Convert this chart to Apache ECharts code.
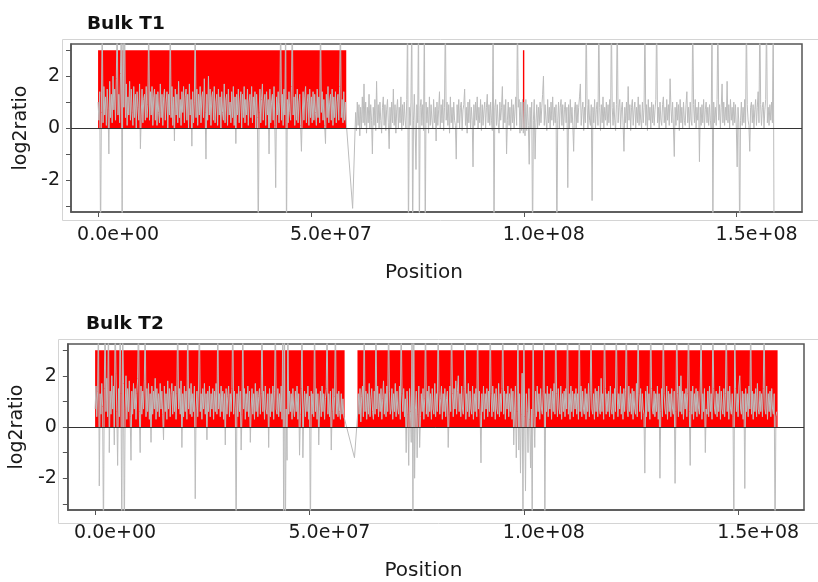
<!DOCTYPE html>
<html>
<head>
<meta charset="utf-8">
<script src="https://cdn.jsdelivr.net/npm/echarts@6/dist/echarts.min.js"></script>
<style>
  html, body { margin: 0; padding: 0; background: #fff; }
  #chart { width: 818px; height: 582px; }
</style>
</head>
<body>
<div id="chart"></div>
<script>
// ---- copy-number profiles (log2 ratio along chromosome position) ----

// Bulk T1: binned log2 ratios, p arm and q arm
const t1ArmP = { start: 0, end: 5.83e7, values: [
  1.0,0.3,1.4,-4.5,0.6,4.4,0.2,1.6,0.5,1.2,0.1,1.5,0.7,-1.0,1.8,0.4,1.3,0.2,2.0,0.7,
  1.5,0.3,1.9,4.5,0.5,1.3,0.2,2.1,4.4,-4.5,4.5,0.8,4.4,0.4,1.7,0.1,1.2,0.5,1.8,0.3,
  1.5,0.6,0.1,1.6,0.4,1.3,0.0,1.4,0.8,0.3,1.7,-0.8,0.5,1.5,0.2,1.1,1.3,0.3,1.6,0.4,
  0.9,4.3,0.3,1.4,0.5,1.6,0.1,1.2,1.5,0.3,1.3,0.1,1.4,0.6,0.2,1.7,0.4,1.3,0.1,1.2,
  1.5,0.3,1.0,1.4,0.0,1.3,0.5,4.4,0.4,1.6,0.1,1.2,-0.5,1.5,0.5,1.3,0.2,1.8,0.4,1.1,
  0.1,1.4,0.6,1.6,0.2,1.2,1.5,0.3,1.3,0.0,1.7,0.5,1.1,-0.7,1.4,0.2,1.0,4.4,0.4,1.5,
  0.1,1.3,0.5,1.6,0.2,1.2,1.4,0.4,1.9,0.6,-1.2,1.3,0.3,2.0,0.5,1.5,0.1,1.2,1.4,0.3,
  1.6,0.2,1.0,1.3,0.1,1.5,0.5,1.2,0.0,1.4,0.6,0.3,1.7,0.2,1.1,1.3,0.1,1.5,0.5,1.0,
  0.2,1.4,0.4,1.6,0.1,1.2,-0.6,1.3,0.5,1.5,0.2,1.0,1.4,0.0,1.3,0.4,1.6,0.2,1.1,0.5,
  1.5,0.1,1.0,1.3,0.4,1.6,0.2,1.2,0.5,1.4,0.0,1.3,0.4,-4.5,0.6,1.5,0.2,1.1,1.7,0.3,
  1.0,1.3,0.1,1.4,0.5,1.1,-1.0,1.5,0.2,1.0,1.3,0.3,1.6,0.1,-2.3,1.2,0.5,1.4,0.2,1.0,
  4.4,0.3,1.3,0.1,1.5,0.5,4.5,-4.5,1.1,0.2,1.4,0.6,0.3,1.6,4.4,0.5,1.2,0.1,1.3,0.3,
  1.5,0.2,1.0,1.3,0.1,-0.9,0.5,1.4,0.3,1.2,1.6,0.2,1.0,1.3,0.1,1.5,0.4,1.2,0.2,1.4,
  0.3,1.3,0.6,0.1,1.5,0.4,1.2,0.2,4.4,0.6,1.4,0.3,1.1,0.1,-0.6,1.3,0.4,1.6,0.2,1.0,
  1.3,0.3,1.5,0.1,1.2,0.4,1.4,0.2,1.0,1.3,0.3,1.6,4.3,0.4,1.1,0.2,1.4,0.3,1.0,0.2
]};
const t1Bridge = [5.98e7, -3.1];
const t1ArmQ = { start: 6.05e7, end: 1.588e8, values: [
  0.6,-0.1,1.0,0.1,0.9,-0.3,0.8,0.0,1.2,0.2,1.7,0.1,1.0,-0.2,0.8,0.2,1.3,0.0,0.9,0.3,
  -1.0,0.8,0.1,1.1,-0.1,1.8,0.2,0.9,0.0,1.0,0.3,-0.2,0.8,1.2,0.1,0.9,-0.1,0.7,1.1,0.2,
  -0.8,0.8,0.0,1.0,0.2,1.5,0.1,0.9,-0.2,0.7,1.1,0.0,0.8,0.2,1.2,-0.1,0.9,0.1,1.0,0.3,
  0.0,1.1,4.5,-4.5,0.8,0.1,1.0,4.5,-4.5,0.3,1.3,0.0,-1.6,0.9,0.2,4.5,-4.5,0.8,1.1,0.1,
  0.9,-0.1,4.5,-4.5,1.0,0.2,0.8,-0.2,1.2,0.1,0.9,0.3,0.0,1.1,0.2,0.8,-0.5,1.0,0.1,0.7,
  1.4,0.0,0.9,0.2,1.1,-0.1,0.8,4.4,0.3,1.0,0.1,0.9,-0.2,1.2,0.2,0.8,0.0,1.0,0.3,0.1,
  -1.2,0.9,0.2,1.1,0.0,0.8,1.0,-0.1,0.7,0.9,1.5,0.1,0.8,-0.2,1.0,0.2,1.1,0.0,0.8,0.3,
  -1.5,0.9,0.1,1.0,0.3,1.2,0.0,0.8,0.2,1.1,-0.1,0.9,0.1,0.7,1.0,0.0,0.8,1.3,0.2,0.9,
  0.1,1.0,0.3,-0.1,4.5,-4.5,0.8,1.1,0.1,0.9,0.2,-0.2,1.0,0.3,0.8,1.6,0.0,0.9,0.2,1.1,
  -1.0,0.3,1.0,0.1,0.8,-0.1,1.1,0.2,0.9,0.0,0.7,1.2,0.1,4.4,0.8,1.1,-0.2,1.0,-0.1,1.1,
  -0.2,1.0,-0.3,1.1,-0.1,0.9,0.1,-1.4,0.8,0.0,1.0,-4.5,0.3,1.1,-1.2,0.2,0.9,0.0,0.8,0.1,
  1.0,0.2,0.8,1.3,2.0,0.1,0.9,0.3,-0.1,1.1,0.2,0.8,0.0,1.0,0.3,1.2,0.1,0.8,0.2,0.9,
  -4.5,0.3,1.0,0.0,0.8,1.1,0.1,0.9,-0.1,0.7,1.0,0.2,0.8,-2.3,0.9,0.0,1.1,0.2,0.8,0.1,
  -0.9,0.7,1.0,0.0,0.9,0.2,0.8,1.2,1.7,0.1,0.7,1.0,-0.1,0.8,0.2,4.4,0.9,0.0,1.1,0.3,
  0.1,0.9,-2.8,0.8,0.2,1.1,0.0,0.7,1.0,0.1,4.5,0.8,-0.1,0.9,0.2,1.2,0.0,0.8,0.3,1.0,
  0.1,0.9,0.2,1.1,0.0,4.4,0.8,0.1,1.0,0.3,-0.1,0.9,4.5,0.2,0.8,1.1,0.0,0.7,1.0,0.1,
  -0.9,0.8,0.2,1.0,0.0,1.6,0.3,0.9,-0.1,0.8,1.1,0.1,0.7,1.0,0.0,0.8,0.2,1.2,0.1,0.9,
  0.3,0.0,1.0,0.2,0.8,4.4,0.1,0.9,-0.1,1.1,0.3,0.8,0.0,1.0,0.2,0.9,0.1,0.7,1.1,4.5,
  0.2,0.8,0.0,1.0,0.3,0.1,0.9,1.2,0.2,0.8,0.0,1.1,0.3,0.9,0.1,1.9,0.8,0.2,1.0,0.0,
  -1.1,0.8,0.1,1.0,0.3,0.9,-0.1,1.1,0.2,0.8,0.0,1.0,0.3,0.1,0.9,1.4,0.2,0.8,0.0,1.0,
  0.3,0.1,4.4,0.9,0.2,1.1,0.0,0.8,0.3,1.0,-1.3,0.8,0.1,0.9,0.2,1.1,0.0,0.7,1.0,0.2,
  0.8,0.1,0.9,0.3,0.0,4.5,-4.5,1.0,0.2,0.8,0.1,1.1,4.4,0.3,0.9,0.0,0.8,1.7,0.2,1.0,
  0.1,0.8,0.3,1.8,0.2,0.9,0.0,1.1,0.3,0.8,0.1,1.0,0.2,0.9,0.0,-1.5,0.8,0.2,-4.5,0.3,
  1.0,0.1,0.8,0.2,1.1,0.0,4.4,0.9,0.3,0.1,-0.9,0.8,1.0,0.2,0.9,0.0,0.7,1.1,0.1,0.8,
  1.4,0.2,4.5,0.9,0.1,0.8,1.0,0.0,0.7,1.1,4.4,0.2,0.8,0.1,0.9,0.3,1.0,0.2,4.5,-4.5
]};
// called gain segments: [start, end, level]
const t1Gains = [[0, 5.83e7, 3], [9.98e7, 1.0e8, 3]];

// Bulk T2
const t2ArmP = { start: 0, end: 5.82e7, values: [
  0.7,1.6,0.4,1.4,4.4,-2.3,1.3,0.5,1.7,0.8,-4.5,1.5,4.5,0.6,1.9,0.4,4.4,-1.0,1.4,0.5,
  2.0,0.7,1.6,-0.7,4.5,2.1,0.6,-1.5,1.5,0.4,4.4,1.3,-4.5,4.5,1.7,-4.5,0.7,2.0,0.3,1.5,
  0.6,1.8,0.4,-1.3,1.4,0.5,1.7,0.7,1.5,0.3,1.3,1.9,4.5,0.6,-1.0,1.6,0.5,1.4,0.7,1.8,
  4.4,0.4,1.5,0.6,1.7,0.3,1.3,-0.6,1.6,0.5,1.4,0.7,1.9,0.3,1.5,0.6,1.3,0.4,1.7,0.7,
  1.4,0.5,-0.5,1.6,0.6,1.3,0.3,1.8,0.7,1.5,0.4,1.3,1.7,0.5,1.4,0.6,1.6,0.3,1.3,4.5,
  0.7,1.5,0.5,1.8,-0.8,1.3,0.4,1.6,0.6,1.4,0.3,4.4,0.7,1.5,0.5,1.7,0.4,1.3,0.6,1.6,
  -2.8,0.7,1.4,0.4,1.6,4.5,0.6,1.3,0.3,1.5,0.7,1.7,0.5,1.3,-0.5,1.4,0.6,1.6,0.4,1.3,
  0.7,1.5,0.3,1.4,0.6,1.7,0.5,4.4,0.7,1.3,0.4,1.6,0.6,1.4,0.3,1.3,-0.7,1.5,0.5,1.2,
  1.6,0.4,1.3,0.6,1.5,4.5,0.5,1.4,0.7,-4.5,1.3,0.4,1.6,0.6,1.4,-0.9,0.5,4.4,0.7,1.5,
  0.3,1.3,0.6,1.6,0.4,1.4,-0.6,0.7,1.5,0.5,1.3,0.3,1.7,0.6,1.4,0.4,1.2,1.5,0.5,1.3,
  4.5,0.6,1.4,0.3,1.6,0.7,0.5,1.3,-0.8,1.5,0.4,1.3,0.6,1.6,0.3,1.4,4.4,0.7,0.5,1.5,
  0.4,1.3,0.6,1.6,0.3,4.5,-4.5,4.4,-4.5,0.7,-1.3,4.4,0.5,1.4,0.6,1.3,0.3,1.5,0.7,0.4,
  1.4,0.6,1.6,0.3,1.3,-1.1,0.5,1.5,4.5,-1.2,0.7,1.4,0.4,1.3,0.6,1.6,0.3,1.2,-4.5,1.4,
  0.5,1.3,0.4,4.4,0.6,1.5,0.3,1.3,-0.7,0.7,1.4,0.4,1.6,0.6,1.3,0.3,1.1,1.5,4.5,0.5,
  1.3,0.4,1.4,-0.9,0.6,1.5,0.3,1.2,4.4,0.5,1.3,0.4,1.4,0.6,0.3,1.3,0.5,1.1,0.4,0.3
]};
const t2Bridge = [6.05e7, -1.2];
const t2ArmQ = { start: 6.12e7, end: 1.59e8, values: [
  0.4,1.3,0.5,1.5,0.2,1.2,1.6,0.4,4.4,0.6,1.4,0.3,1.3,0.5,1.7,0.4,1.1,1.5,0.6,0.3,
  1.4,0.5,4.5,0.7,1.6,0.4,1.3,0.6,1.5,0.3,1.1,1.8,0.5,1.3,0.4,1.6,0.6,4.4,1.4,0.5,
  0.7,1.5,0.3,1.3,0.6,1.7,0.4,1.4,0.7,0.5,1.6,0.3,4.5,1.3,0.6,1.5,0.4,1.1,-1.0,1.4,
  0.5,-1.5,1.5,0.6,-0.6,4.5,-4.5,4.4,-2.0,0.7,1.4,-1.2,0.5,1.6,-0.8,0.4,1.3,0.6,1.5,0.3,
  1.1,4.4,0.5,1.4,0.4,1.6,0.6,1.3,0.3,1.5,0.7,0.5,1.7,0.4,1.3,0.6,4.5,1.4,0.5,1.1,
  1.6,0.3,1.3,0.6,1.5,0.4,1.1,1.4,-0.8,0.5,1.6,0.6,4.4,1.3,0.4,1.5,0.7,1.8,0.5,1.4,
  2.0,0.6,1.3,0.4,1.6,0.7,0.5,1.5,4.5,0.3,1.3,0.6,1.7,0.4,1.4,0.7,0.5,1.6,0.3,1.3,
  0.6,1.5,0.4,4.4,0.7,1.4,0.5,-1.4,1.3,0.6,1.6,0.3,1.3,0.7,1.5,0.4,1.4,0.6,4.5,1.3,
  0.4,1.6,0.6,1.3,0.3,1.5,0.7,0.5,1.7,0.4,1.3,0.6,1.5,4.4,0.5,1.4,0.3,1.3,0.7,1.6,
  0.4,1.3,0.6,1.5,0.3,1.4,-0.7,0.7,1.6,-1.2,0.6,4.5,-0.9,1.3,-1.8,0.5,2.1,-4.5,4.4,0.4,
  -2.5,1.3,0.6,-1.0,1.5,0.3,-1.6,0.7,-4.5,4.5,0.5,-0.8,1.4,0.4,1.6,0.6,1.3,0.3,1.5,0.7,
  0.5,1.4,4.4,-4.5,1.3,0.6,1.6,0.4,1.3,0.7,1.5,0.3,1.4,0.6,1.7,0.5,4.5,1.3,0.4,1.5,
  0.7,0.5,1.6,0.3,1.3,0.6,1.4,0.4,1.5,0.7,4.4,0.5,1.3,0.3,1.6,0.6,1.4,0.4,1.3,0.7,
  1.5,0.5,1.3,0.3,4.5,0.6,1.6,0.4,1.4,0.7,0.5,1.5,0.3,1.3,0.6,1.7,0.4,1.4,4.4,0.7,
  0.5,1.3,0.3,1.5,0.6,1.4,0.4,1.6,0.7,0.5,1.9,0.6,1.3,0.3,4.5,1.5,0.5,1.3,0.6,1.4,
  0.4,1.6,0.7,0.5,1.3,0.3,1.5,0.6,4.4,1.4,0.4,1.3,0.7,1.6,0.5,1.3,0.3,1.5,0.6,1.4,
  4.5,0.7,0.4,1.6,0.6,1.3,0.5,1.5,0.3,1.4,0.7,0.5,1.7,0.4,4.4,1.3,0.6,1.5,0.3,1.3,
  0.7,0.5,-1.8,1.4,0.4,1.6,0.6,1.3,0.3,4.5,1.5,0.7,0.5,1.4,0.4,1.3,0.6,1.6,0.3,1.3,
  -2.0,0.6,1.5,0.4,4.4,1.3,0.7,0.5,1.6,0.3,1.4,0.6,1.3,0.4,1.5,0.7,0.5,1.4,-2.2,0.6,
  4.5,1.3,0.4,1.6,0.6,2.0,0.5,1.4,0.3,1.3,0.7,1.5,0.4,1.3,4.4,0.6,-1.5,1.4,0.5,1.6,
  0.3,1.3,0.6,1.5,0.4,1.4,0.7,0.5,1.6,4.5,0.3,1.3,0.6,1.5,-1.0,0.7,0.5,1.4,0.4,1.6,
  0.6,1.3,0.3,4.4,1.5,0.7,0.5,1.4,0.4,1.3,0.6,1.6,0.3,1.4,0.7,0.5,1.5,0.4,1.3,4.5,
  0.6,1.4,0.3,1.6,0.7,0.5,1.3,0.4,-4.5,4.4,1.5,0.6,1.3,0.4,1.6,2.0,0.7,0.5,1.4,0.3,
  1.3,-2.4,1.5,0.6,1.3,0.4,1.6,0.7,4.5,0.5,1.4,0.3,1.3,0.6,1.5,0.4,1.7,0.7,0.5,1.4,
  0.6,1.3,0.4,1.5,4.4,0.7,0.5,1.6,0.3,1.3,0.6,1.4,0.4,1.5,0.7,0.5,1.3,-4.5,0.4,0.6
]};
const t2Gains = [[0, 5.82e7, 3], [6.12e7, 1.592e8, 3]];

// axis ticks and their printed labels
const xTickValues = [0, 5e7, 1e8, 1.5e8];
const xTickLabels = ['0.0e+00', '5.0e+07', '1.0e+08', '1.5e+08'];
const yTickValues = [-3, -2, -1, 0, 1, 2, 3];
const yLabelValues = [-2, 0, 2];

const panelTitles = ['Bulk T1', 'Bulk T2'];

// ---- helpers ----
function armPoints(arm) {
  const n = arm.values.length;
  const step = (arm.end - arm.start) / (n - 1);
  return arm.values.map((v, i) => [arm.start + i * step, v]);
}
function profile(armP, bridge, armQ) {
  return armPoints(armP).concat([bridge], armPoints(armQ));
}

const FONT = '"DejaVu Sans", Verdana, sans-serif';
const TEXT = '#1a1a1a';
const X_MIN = -6.36e6, X_MAX = 1.6536e8;
const Y_MIN = -3.24, Y_MAX = 3.24;

const grids = [
  { left: 71, top: 44, width: 731, height: 168 },
  { left: 64, top: 344, width: 740, height: 169 }
];

function xAxisFor(i) {
  return {
    type: 'value', gridIndex: i, min: X_MIN, max: X_MAX,
    name: 'Position', nameLocation: 'middle', nameGap: 51,
    nameTextStyle: { fontFamily: FONT, fontSize: 20, color: TEXT, padding: [0, 25, 0, 0] },
    axisLine: { show: true, onZero: false, lineStyle: { color: '#555', width: 1.5 } },
    axisTick: { show: true, customValues: xTickValues, length: 5, lineStyle: { color: '#555', width: 1 } },
    axisLabel: {
      customValues: xTickValues, margin: 14, fontFamily: FONT, fontSize: 19, color: TEXT,
      padding: [0, 0, 0, 40],
      formatter: v => xTickLabels[xTickValues.indexOf(v)] ?? ''
    },
    splitLine: { show: false }
  };
}
function yAxisFor(i) {
  return {
    type: 'value', gridIndex: i, min: Y_MIN, max: Y_MAX,
    name: 'log2ratio', nameLocation: 'middle', nameGap: 32, nameRotate: 90,
    nameTextStyle: { fontFamily: FONT, fontSize: 19, color: TEXT },
    axisLine: { show: true, onZero: false, lineStyle: { color: '#555', width: 1.5 } },
    axisTick: { show: true, customValues: yTickValues, length: 5, lineStyle: { color: '#555', width: 1 } },
    axisLabel: {
      customValues: yLabelValues, margin: 11, fontFamily: FONT, fontSize: 19, color: TEXT,
      formatter: v => String(v)
    },
    splitLine: { show: false }
  };
}

function gainSeries(i, gains) {
  return {
    type: 'custom', xAxisIndex: i, yAxisIndex: i, z: 1, silent: true,
    data: gains,
    renderItem: (params, api) => {
      const p0 = api.coord([api.value(0), 0]);
      const p1 = api.coord([api.value(1), api.value(2)]);
      return {
        type: 'rect',
        shape: { x: p0[0], y: p1[1], width: Math.max(p1[0] - p0[0], 1.4), height: p0[1] - p1[1] },
        style: { fill: '#ff0000' }
      };
    },
    clip: true
  };
}
function ratioSeries(i, pts) {
  return {
    type: 'line', xAxisIndex: i, yAxisIndex: i, z: 2, silent: true,
    data: pts, showSymbol: false, symbol: 'none', sampling: null,
    lineStyle: { color: '#bcbcbc', width: 1.0, opacity: 1 },
    clip: true,
    markLine: {
      silent: true, symbol: 'none', label: { show: false },
      lineStyle: { color: '#333', width: 1, type: 'solid' },
      data: [{ yAxis: 0 }]
    }
  };
}

const chart = echarts.init(document.getElementById('chart'), null, { renderer: 'canvas' });
chart.setOption({
  animation: false,
  backgroundColor: '#fff',
  title: [
    { text: panelTitles[0], left: 82, top: 10, textStyle: { fontFamily: FONT, fontSize: 18.5, fontWeight: 'bold', color: '#111' } },
    { text: panelTitles[1], left: 81, top: 310, textStyle: { fontFamily: FONT, fontSize: 18.5, fontWeight: 'bold', color: '#111' } }
  ],
  graphic: [
    { type: 'rect', shape: { x: 62.5, y: 39.5, width: 780, height: 181 }, style: { fill: 'none', stroke: '#d4d4d4', lineWidth: 1 }, silent: true, z: -1 },
    { type: 'rect', shape: { x: 58.5, y: 339.5, width: 780, height: 184 }, style: { fill: 'none', stroke: '#d4d4d4', lineWidth: 1 }, silent: true, z: -1 }
  ],
  grid: grids.map(g => Object.assign({ show: true, borderColor: '#555', borderWidth: 1.5, backgroundColor: 'transparent' }, g)),
  xAxis: [xAxisFor(0), xAxisFor(1)],
  yAxis: [yAxisFor(0), yAxisFor(1)],
  series: [
    gainSeries(0, t1Gains),
    ratioSeries(0, profile(t1ArmP, t1Bridge, t1ArmQ)),
    gainSeries(1, t2Gains),
    ratioSeries(1, profile(t2ArmP, t2Bridge, t2ArmQ))
  ]
});
</script>
</body>
</html>
